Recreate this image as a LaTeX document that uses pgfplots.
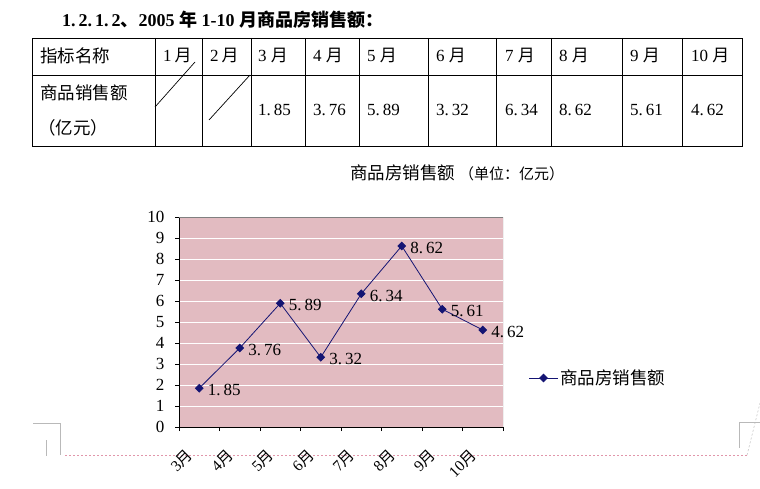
\documentclass[border=0pt]{standalone}
\usepackage{fontspec}
\setmainfont{Liberation Serif}
\newfontfamily\cjk{Noto Sans CJK SC}
\usepackage{pgfplots}
\pgfplotsset{compat=1.18}
\definecolor{bgpink}{RGB}{226,187,193}
\definecolor{navy}{RGB}{20,20,115}
\definecolor{pagegray}{RGB}{185,185,185}
\definecolor{pagepink}{RGB}{225,150,170}
\newcommand{\yue}{{\cjk 月}}
\newcommand{\fs}[1]{\fontsize{#1}{#1}\selectfont}
\begin{document}
\begin{tikzpicture}[x=1pt,y=1pt]
\useasboundingbox (0,0) rectangle (760,488);
% header
\node[anchor=west,inner sep=0pt] at (62,468) {\fs{18}\bfseries 1.\,2.\,1.\,2{\cjk 、}2005 {\cjk 年} 1-10 {\cjk 月商品房销售额：}};
% table
\draw[line width=0.8pt] (32,450) rectangle (742,342);
\draw[line width=0.8pt] (32,413) -- (742,413);
\foreach \xx in {155,202,251,305,359,428,496,551,622,682}
  \draw[line width=0.8pt] (\xx,450) -- (\xx,342);
\draw[line width=0.7pt] (155,381) -- (195,426);
\draw[line width=0.7pt] (209,368) -- (250,413);
\node[anchor=west,inner sep=0pt] at (40,432) {\cjk\fs{17.5}指标名称};
\node[anchor=west,inner sep=0pt] at (40,395) {\cjk\fs{17.5}商品销售额};
\node[anchor=west,inner sep=0pt] at (38,360) {\cjk\fs{17.5}（亿元）};
\node[anchor=west,inner sep=0pt] at (163,432) {\fs{17}1\,\yue};
\node[anchor=west,inner sep=0pt] at (210,432) {\fs{17}2\,\yue};
\foreach \xx/\mm in {258/3,313/4,367/5,436/6,505/7,559/8,630/9,691/10}
  \node[anchor=west,inner sep=0pt] at (\xx,432) {\fs{17}\mm\ \yue};
\foreach \xx/\vv in {258/1.\,85,313/3.\,76,367/5.\,89,436/3.\,32,505/6.\,34,559/8.\,62,630/5.\,61,691/4.\,62}
  \node[anchor=west,inner sep=0pt] at (\xx,378) {\fs{17}\vv};
% chart title
\node[anchor=west,inner sep=0pt] at (350,315) {\cjk\fs{17.5}商品房销售额\hspace{4pt}\fs{15}（单位：亿元）};
% page marks
\draw[pagepink,dash pattern=on 2pt off 2pt,line width=0.6pt] (65,33) -- (747,33);
\draw[pagegray,line width=0.6pt] (33,65) -- (60,65) -- (60,33);
\draw[pagegray,line width=0.8pt] (46,48) -- (46,32);
\draw[pagegray,line width=0.6pt] (760,66) -- (739,66) -- (739,40);
\draw[pagegray,dash pattern=on 2pt off 2pt,line width=0.5pt] (747,33) -- (760,85);
\begin{axis}[
  at={(179pt,61pt)}, anchor=south west,
  scale only axis, width=324pt, height=210pt,
  xmin=-0.5, xmax=7.5, ymin=0, ymax=10,
  axis x line*=bottom, axis y line*=left,
  axis line style={black, line width=0.9pt},
  axis background/.style={fill=bgpink},
  ytick={0,1,...,10},
  xtick={0,...,7},
  xticklabels={3\yue,4\yue,5\yue,6\yue,7\yue,8\yue,9\yue,10\yue},
  minor xtick={-0.5,0.5,...,7.5},
  major x tick style={draw=none},
  minor tick length=4pt, major tick length=4pt,
  tick align=outside,
  tick style={black, line width=0.8pt},
  ymajorgrids, grid style={white, line width=0.9pt},
  /pgf/number format/assume math mode=true,
  yticklabel style={font=\fs{17}, xshift=-7pt},
  xticklabel style={font=\fs{15.5}, anchor=east, xshift=-7pt, yshift=-19pt, rotate=45},
  nodes near coords,
  nodes near coords style={font=\fs{17}, text=black, anchor=west, xshift=5pt, yshift=-2pt,
    /pgf/number format/.cd, fixed, fixed zerofill, precision=2, set decimal separator={.\,}},
  legend style={at={(1.07,0.233)}, anchor=west, draw=none, fill=none, font=\cjk\fs{17.5}},
  legend image code/.code={\draw[mark repeat=2,mark phase=2,#1] plot coordinates {(0cm,0cm)(0.5cm,0cm)(1cm,0cm)};},
]
\addplot[navy, line width=0.8pt, mark=square*, mark size=2.7pt, mark options={fill=navy, rotate=45}]
  coordinates {(0,1.85) (1,3.76) (2,5.89) (3,3.32) (4,6.34) (5,8.62) (6,5.61) (7,4.62)};
\addlegendentry{商品房销售额}
\draw[gray, line width=0.8pt] (rel axis cs:0,1) -- (rel axis cs:1,1) -- (rel axis cs:1,0);
\end{axis}
\end{tikzpicture}
\end{document}
